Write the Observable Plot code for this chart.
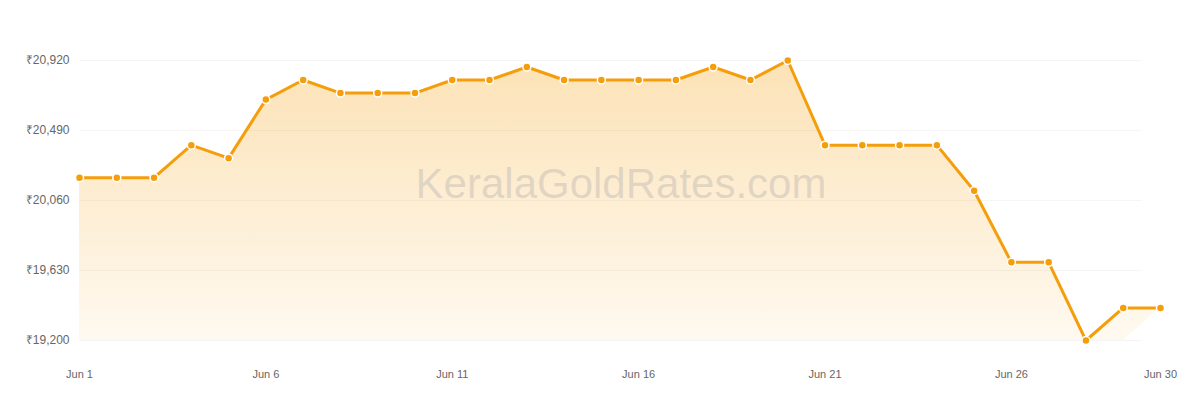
<!DOCTYPE html>
<html>
<head>
<meta charset="utf-8">
<script src="https://cdn.jsdelivr.net/npm/d3@7"></script>
<script src="https://cdn.jsdelivr.net/npm/@observablehq/plot@0.6"></script>
<style>
  html, body { margin: 0; padding: 0; background: #fff; }
  #chart svg { display: block; }
</style>
</head>
<body>
<div id="chart"></div>
<script>
// ---- data ----
const year = 2025;
const month = 5; // June (0-based)
const days = [1,2,3,4,5,6,7,8,9,10,11,12,13,14,15,16,17,18,19,20,21,22,23,24,25,26,27,28,29,30];
const rates = [20200,20200,20200,20400,20320,20680,20800,20720,20720,20720,
               20800,20800,20880,20800,20800,20800,20800,20880,20800,20920,
               20400,20400,20400,20400,20120,19680,19680,19200,19400,19400];
const yTicks = [19200,19630,20060,20490,20920];
const xTickDays = [1,6,11,16,21,26,30];
const watermark = "KeralaGoldRates.com";

const data = days.map((d, i) => ({date: new Date(Date.UTC(year, month, d)), value: rates[i]}));
const xTicks = xTickDays.map(d => new Date(Date.UTC(year, month, d)));
const gridEnd = new Date(Date.UTC(year, month, 29, 12));
const yMin = yTicks[0];
const lastDate = data[data.length - 1].date;

const lineColor = "#f59e0b";
const fmtRupee = v => "₹" + d3.format(",")(v);

const chart = Plot.plot({
  width: 1200,
  height: 400,
  marginLeft: 79,
  marginRight: 40,
  marginTop: 60,
  marginBottom: 60,
  style: {fontFamily: "'Liberation Sans', Arial, sans-serif", fontSize: "12px", color: "#666", background: "#fff"},
  x: {type: "utc", domain: [data[0].date, lastDate]},
  y: {domain: [yTicks[0], yTicks[yTicks.length - 1]]},
  marks: [
    Plot.ruleY(yTicks, {x1: data[0].date, x2: gridEnd, stroke: "#000", strokeOpacity: 0.04, strokeWidth: 1}),
    Plot.areaY(data, {x: "date", y1: d => (+d.date === +lastDate ? d.value : yMin), y2: "value", fill: "url(#goldGrad)", curve: "linear"}),
    Plot.text([watermark], {frameAnchor: "middle", dx: 1, dy: -16, fontSize: 42, fill: "#aaa", fillOpacity: 0.35, fontFamily: "'Liberation Sans', Arial, sans-serif"}),
    Plot.line(data, {x: "date", y: "value", stroke: lineColor, strokeWidth: 3, strokeLinejoin: "round"}),
    Plot.dot(data, {x: "date", y: "value", r: 4, fill: lineColor, stroke: "#fff", strokeWidth: 1.5}),
    Plot.axisY({ticks: yTicks, tickFormat: fmtRupee, tickSize: 0, tickPadding: 10, label: null, fill: "#666", fontSize: 12}),
    Plot.axisX({ticks: xTicks, tickFormat: d3.utcFormat("%b %-d"), tickSize: 0, tickPadding: 30, label: null, fill: "#666", fontSize: 11})
  ]
});

// gradient definition for the area fill
const svg = d3.select(chart);
const defs = svg.insert("defs", ":first-child");
const grad = defs.append("linearGradient").attr("id", "goldGrad").attr("x1", 0).attr("y1", 0).attr("x2", 0).attr("y2", 1);
grad.append("stop").attr("offset", "0%").attr("stop-color", lineColor).attr("stop-opacity", 0.3);
grad.append("stop").attr("offset", "100%").attr("stop-color", lineColor).attr("stop-opacity", 0.06);

document.getElementById("chart").appendChild(chart);
</script>
</body>
</html>
